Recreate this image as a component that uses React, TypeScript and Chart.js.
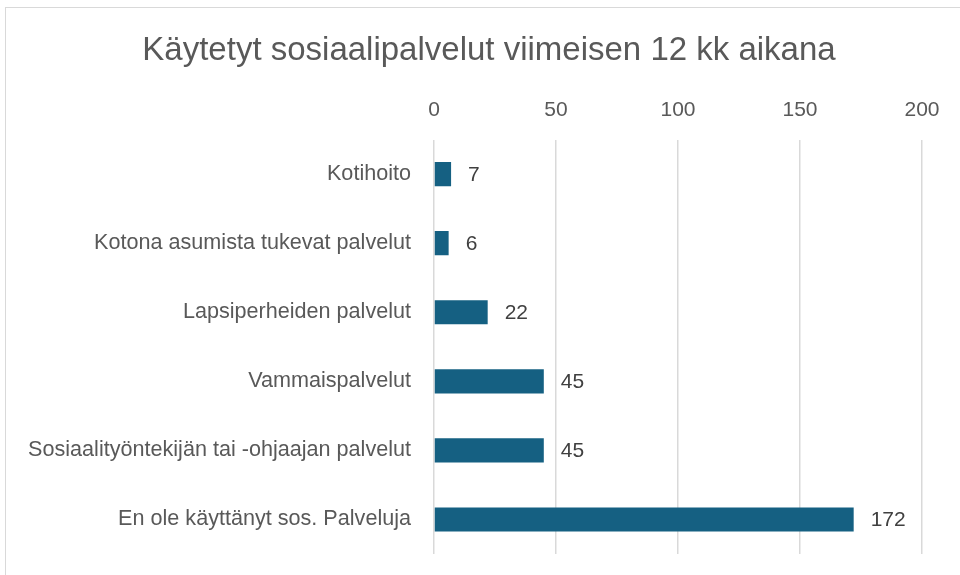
import React, { useEffect, useRef } from "react";
import { Chart, registerables } from "chart.js";

Chart.register(...registerables);

const categories = [
  "Kotihoito",
  "Kotona asumista tukevat palvelut",
  "Lapsiperheiden palvelut",
  "Vammaispalvelut",
  "Sosiaalityöntekijän tai -ohjaajan palvelut",
  "En ole käyttänyt sos. Palveluja",
];
const values = [7, 6, 22, 45, 45, 172];
const titleText = "Käytetyt sosiaalipalvelut viimeisen 12 kk aikana";

const FONT = "'Liberation Sans', Arial, sans-serif";

const dataLabels = {
  id: "dataLabels",
  afterDatasetsDraw(chart: any) {
    const ctx = chart.ctx;
    const meta = chart.getDatasetMeta(0);
    ctx.save();
    ctx.font = `21px ${FONT}`;
    ctx.fillStyle = "#404040";
    ctx.textAlign = "left";
    ctx.textBaseline = "middle";
    meta.data.forEach((bar: any, i: number) => {
      ctx.fillText(String(values[i]), bar.x + 17, bar.y + 1);
    });
    ctx.restore();
  },
};

// Title centred over the whole chart frame (which extends past the right edge of the picture)
const frameTitle = {
  id: "frameTitle",
  afterDraw(chart: any) {
    const ctx = chart.ctx;
    ctx.save();
    ctx.font = `33px ${FONT}`;
    ctx.fillStyle = "#595959";
    ctx.textAlign = "center";
    ctx.textBaseline = "middle";
    ctx.fillText(titleText, (chart.chartArea.right + 56) / 2, 51);
    ctx.restore();
  },
};

export default function App() {
  const ref = useRef<HTMLCanvasElement>(null);
  useEffect(() => {
    document.body.style.margin = "0";
    const chart = new Chart(ref.current!, {
      type: "bar",
      data: {
        labels: categories,
        datasets: [
          {
            data: values,
            backgroundColor: "#156082",
            borderWidth: 0,
            barPercentage: 0.7,
            categoryPercentage: 0.5,
          },
        ],
      },
      options: {
        indexAxis: "y",
        animation: false,
        responsive: false,
        layout: { padding: { left: 0, right: 38, top: 71.6, bottom: 21 } },
        plugins: {
          legend: { display: false },
          tooltip: { enabled: false },
          title: { display: false },
        },
        scales: {
          x: {
            position: "top",
            min: 0,
            max: 200,
            ticks: {
              stepSize: 50,
              color: "#595959",
              font: { family: FONT, size: 21 },
              padding: 17,
            },
            grid: { color: "#d9d9d9", lineWidth: 1.5, drawTicks: false },
            border: { display: false },
            afterFit(scale: any) {
              scale.height = 68;
              scale.paddingLeft = 0;
              scale.paddingRight = 0;
            },
          },
          y: {
            ticks: {
              color: "#595959",
              font: { family: FONT, size: 21.6 },
              padding: 23,
            },
            grid: { display: false, drawTicks: false },
            border: { display: false },
            afterFit(scale: any) {
              scale.width = 434;
              scale.paddingTop = 0;
              scale.paddingBottom = 0;
            },
          },
        },
      },
      plugins: [dataLabels, frameTitle],
    });
    return () => chart.destroy();
  }, []);
  return (
    <div style={{ position: "relative", width: 960, height: 575, overflow: "hidden", background: "#fff" }}>
      <div
        style={{
          position: "absolute",
          left: 5,
          top: 7,
          width: 1000,
          height: 1000,
          borderLeft: "1.5px solid #d9d9d9",
          borderTop: "1.5px solid #d9d9d9",
        }}
      />
      <canvas ref={ref} width={960} height={575} style={{ position: "absolute", left: 0, top: 0 }} />
    </div>
  );
}
